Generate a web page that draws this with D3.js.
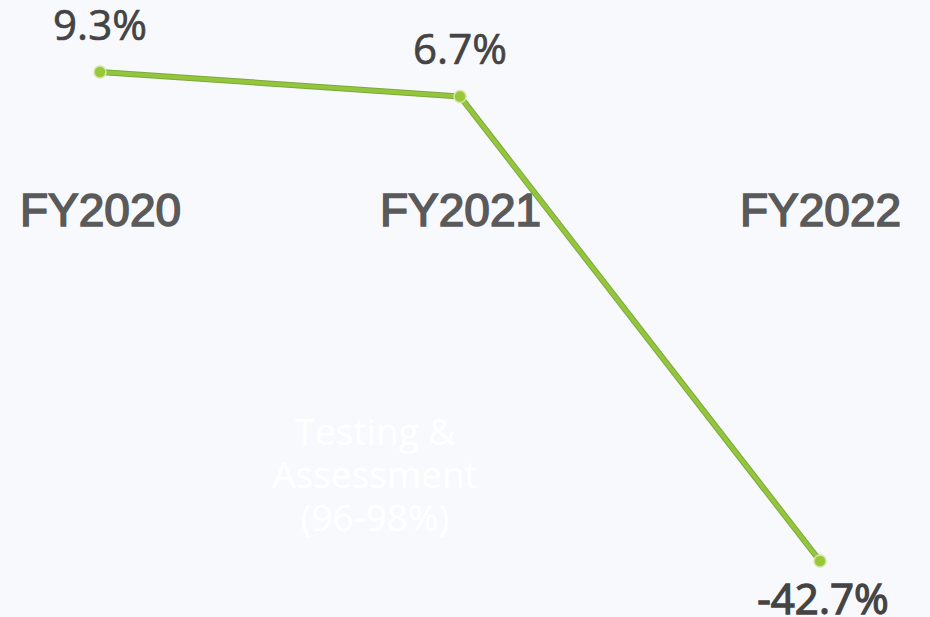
<!DOCTYPE html>
<html><head><meta charset="utf-8">
<script src="https://cdn.jsdelivr.net/npm/d3@7"></script>
<style>html,body{margin:0;padding:0;background:#f8f9fd;}svg{display:block;}
.os{font-family:"Open Sans","Noto Sans",sans-serif;}</style>
</head><body>
<svg id="c" width="930" height="617"></svg>
<script>
const categories = ["FY2020", "FY2021", "FY2022"];
const values = [9.3, 6.7, -42.7];
const valueLabels = ["9.3%", "6.7%", "-42.7%"];
const watermarkLines = ["Testing &", "Assessment", "(96-98%)"];

const svg = d3.select("#c");
svg.append("rect").attr("width", 930).attr("height", 617).attr("fill", "#f8f9fd");

const x = d3.scalePoint().domain(categories).range([100, 820]);
const y = d3.scaleLinear().domain([-42.7, 9.3]).range([561, 72]);

// watermark text
const wm = svg.append("text").attr("class", "os").attr("text-anchor", "middle")
  .attr("font-size", 37).attr("fill", "#ffffff");
watermarkLines.forEach((t, i) => wm.append("tspan").attr("x", 375).attr("y", 445 + i * 43).text(t));

// category labels
const ax = d3.axisTop(x).tickSize(0).tickPadding(0);
const axG = svg.append("g").attr("transform", "translate(0,226)").call(ax);
axG.select(".domain").remove();
axG.selectAll("text").attr("font-family", "'Liberation Sans', Arial, sans-serif")
  .attr("font-size", 46).attr("fill", "#5a5a5a").attr("stroke", "#5a5a5a").attr("stroke-width", 1.6)
  .attr("dy", 0);

const data = categories.map((c, i) => ({c, v: values[i], l: valueLabels[i]}));
const line = d3.line().x(d => x(d.c)).y(d => y(d.v));
svg.append("path").datum(data).attr("d", line).attr("fill", "none")
  .attr("stroke", "#7ea83a").attr("stroke-width", 6).attr("stroke-linejoin", "round");
svg.append("path").datum(data).attr("d", line).attr("fill", "none")
  .attr("stroke", "#93c63c").attr("stroke-width", 4).attr("stroke-linejoin", "round");

svg.selectAll("circle.pt").data(data).enter().append("circle").attr("class", "pt")
  .attr("cx", d => x(d.c)).attr("cy", d => y(d.v)).attr("r", 6)
  .attr("fill", "#98c83a").attr("stroke", "#d2e6a8").attr("stroke-width", 1.5);

svg.selectAll("text.val").data(data).enter().append("text").attr("class", "val os")
  .attr("x", d => x(d.c) + (d.v < 0 ? 3 : 0))
  .attr("y", d => d.v < 0 ? y(d.v) + 53 : y(d.v) - 32.5)
  .attr("text-anchor", "middle")
  .attr("font-size", 42).attr("fill", "#444444").attr("stroke", "#444444")
  .attr("stroke-width", d => d.v < 0 ? 1.3 : 0.7)
  .text(d => d.l);
</script>
</body></html>
